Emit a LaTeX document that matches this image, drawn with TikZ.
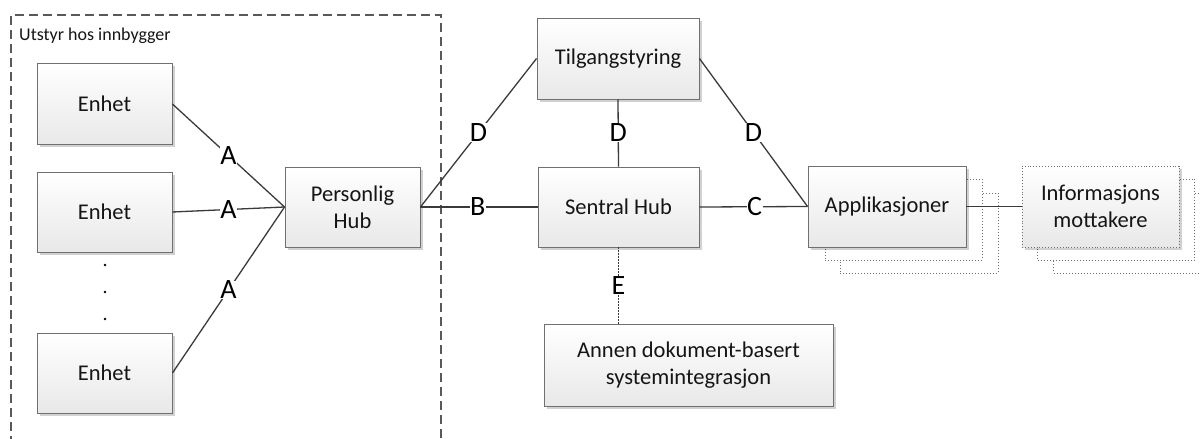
\documentclass[tikz,border=0pt]{standalone}
\usepackage{fontspec}
\setmainfont{Carlito}
\usetikzlibrary{shadows}
\definecolor{linec}{HTML}{3A3A3A}
\definecolor{boxborder}{HTML}{707070}
\definecolor{txt}{HTML}{151515}
\tikzset{
  box/.style={rectangle, draw=boxborder, line width=0.9pt, top color=white, bottom color=black!9,
    drop shadow={shadow xshift=2.5pt, shadow yshift=-2.5pt, fill=black, opacity=0.18},
    inner sep=0pt, align=center, text=txt, font=\fontsize{22.5}{27}\selectfont},
  dotbox/.style={box, dotted},
  copybox/.style={rectangle, draw=boxborder, dotted, line width=1pt, fill=white, inner sep=0pt},
  conn/.style={draw=linec, line width=1.3pt},
  econn/.style={draw=linec, line width=1.3pt, dash pattern=on 1.5pt off 1.5pt},
  lbl/.style={fill=white, inner sep=0.5pt, text=black, font=\fontsize{28}{28}\selectfont},
  frame/.style={draw=black!65, line width=1.1pt, dash pattern=on 9pt off 5pt}
}
\begin{document}
\begin{tikzpicture}[x=1pt, y=-1pt]
\useasboundingbox (0,0) rectangle (1200,439);
% frame
\draw[frame] (11,445) -- (11,15) -- (441,15) -- (441,445);
\node[anchor=base west, inner sep=0pt, text=txt, font=\fontsize{18}{18}\selectfont] (ttl) at (19,40) {Utstyr hos innbygger};
% devices
\node[box, minimum width=135pt, minimum height=81pt] (e1) at (104.5,104) {Enhet};
\node[box, minimum width=135pt, minimum height=80pt] (e2) at (104.5,212) {Enhet};
\node[box, minimum width=135pt, minimum height=80pt] (e3) at (104.5,373) {Enhet};
\fill[black] (105,265) circle (1.4pt) (105,292) circle (1.4pt) (105,319) circle (1.4pt);
% hubs
\node[box, minimum width=135pt, minimum height=80pt] (ph) at (352.5,207) {Personlig\\Hub};
\node[box, minimum width=162pt, minimum height=81pt] (tg) at (618,58.5) {Tilgangstyring};
\node[box, minimum width=161pt, minimum height=80pt] (sh) at (618.5,207) {Sentral Hub};
\node[box, minimum width=289pt, minimum height=82pt] (an) at (688.5,365) {Annen dokument-basert\\systemintegrasjon};
% applications
\node[copybox, minimum width=158pt, minimum height=80pt] (ap3) at (919,233) {};
\node[copybox, minimum width=157pt, minimum height=81pt] (ap2) at (903.5,219.5) {};
\node[box, minimum width=158pt, minimum height=81pt] (ap) at (887,206.5) {Applikasjoner};
% receivers
\node[copybox, minimum width=157pt, minimum height=80pt] (im3) at (1132,233) {};
\node[copybox, minimum width=157pt, minimum height=81pt] (im2) at (1116,219.5) {};
\node[dotbox, minimum width=157pt, minimum height=81pt] (im) at (1100.5,206.5) {Informasjons\\mottakere};
% connectors
\draw[conn] (e1.east) -- (ph.west) node[lbl, pos=0.5] {A};
\draw[conn] (e2.east) -- (ph.west) node[lbl, pos=0.5] {A};
\draw[conn] (e3.east) -- (ph.west) node[lbl, pos=0.5] {A};
\draw[conn] (ph.east) -- (tg.west) node[lbl, pos=0.5] {D};
\draw[conn] (ph.east) -- (sh.west) node[lbl, pos=0.49] {B};
\draw[conn] (tg.south) -- (sh.north) node[lbl, pos=0.5] {D};
\draw[conn] (tg.east) -- (ap.west) node[lbl, pos=0.5] {D};
\draw[conn] (sh.east) -- (ap.west) node[lbl, pos=0.51] {C};
\draw[econn] (sh.south) -- (sh.south |- an.north) node[lbl, pos=0.5] {E};
\draw[conn] (ap.east) -- (im.west);
\end{tikzpicture}
\end{document}
